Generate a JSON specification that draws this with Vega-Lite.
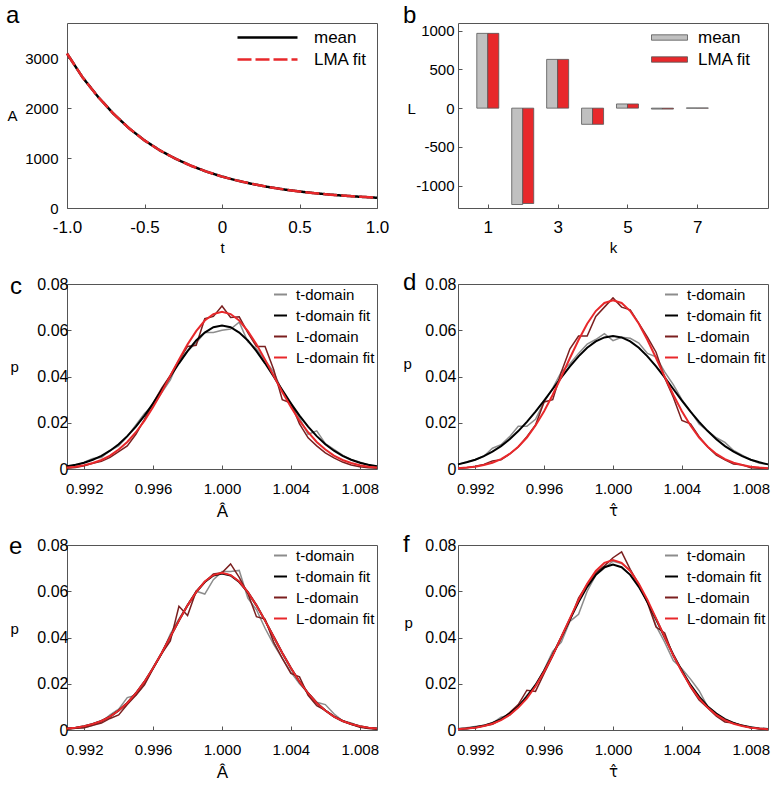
{
  "$schema": "https://vega.github.io/schema/vega-lite/v6.json",
  "padding": {"left": 5, "top": 3, "right": 5, "bottom": 5},
  "background": "white",
  "config": {
    "font": "Liberation Sans",
    "view": {"stroke": "#555555", "strokeWidth": 1},
    "axis": {"domain": false, "grid": false, "ticks": true, "tickSize": -4, "tickColor": "#555555", "labelColor": "#000000", "titleColor": "#000000", "titleFontWeight": "normal", "labelFlush": false, "labelOverlap": false, "labelFontSize": 15, "titleFontSize": 15},
    "legend": {"padding": 0, "labelColor": "#000000", "labelFont": "Liberation Sans"},
    "title": {"anchor": "start", "frame": "group", "fontSize": 24, "fontWeight": "normal", "baseline": "alphabetic", "offset": 0, "color": "#000000"}
  },
  "columns": 2,
  "spacing": {"row": 76, "column": 81},
  "bounds": "flush",
  "resolve": {"scale": {"color": "independent", "strokeDash": "independent", "x": "independent", "y": "independent"}, "legend": {"color": "independent", "strokeDash": "independent"}},
  "datasets": {
    "a": [
      {"t": -1, "mean": 3090, "fit": 3090}, {"t": -0.9, "mean": 2615, "fit": 2615}, {"t": -0.8, "mean": 2225, "fit": 2225},
      {"t": -0.7, "mean": 1885, "fit": 1885}, {"t": -0.6, "mean": 1595, "fit": 1595}, {"t": -0.5, "mean": 1352, "fit": 1352},
      {"t": -0.4, "mean": 1151, "fit": 1151}, {"t": -0.3, "mean": 985, "fit": 985}, {"t": -0.2, "mean": 845, "fit": 845},
      {"t": -0.1, "mean": 728, "fit": 728}, {"t": 0, "mean": 628, "fit": 628}, {"t": 0.1, "mean": 547, "fit": 547},
      {"t": 0.2, "mean": 478, "fit": 478}, {"t": 0.3, "mean": 420, "fit": 420}, {"t": 0.4, "mean": 371, "fit": 371},
      {"t": 0.5, "mean": 330, "fit": 330}, {"t": 0.6, "mean": 296, "fit": 296}, {"t": 0.7, "mean": 267, "fit": 267},
      {"t": 0.8, "mean": 243, "fit": 243}, {"t": 0.9, "mean": 223, "fit": 223}, {"t": 1, "mean": 205, "fit": 205}
    ],
    "b": [
      {"k": 1, "mean": 966, "fit": 966}, {"k": 2, "mean": -1245, "fit": -1232}, {"k": 3, "mean": 630, "fit": 630},
      {"k": 4, "mean": -209, "fit": -209}, {"k": 5, "mean": 54, "fit": 54}, {"k": 6, "mean": -12, "fit": -12}, {"k": 7, "mean": 2, "fit": 2}
    ],
    "c": [
      {"x": 0.991, "td": 0.0008, "tf": 0.0012, "ld": 0.0003, "lf": 0.0006},
      {"x": 0.9915, "td": 0.0012, "tf": 0.0018, "ld": 0.0006, "lf": 0.0010},
      {"x": 0.992, "td": 0.0030, "tf": 0.0027, "ld": 0.0014, "lf": 0.0016},
      {"x": 0.9925, "td": 0.0045, "tf": 0.0040, "ld": 0.0025, "lf": 0.0026},
      {"x": 0.993, "td": 0.0050, "tf": 0.0057, "ld": 0.0033, "lf": 0.0039},
      {"x": 0.9935, "td": 0.0080, "tf": 0.0079, "ld": 0.0050, "lf": 0.0058},
      {"x": 0.994, "td": 0.0100, "tf": 0.0107, "ld": 0.0075, "lf": 0.0084},
      {"x": 0.9945, "td": 0.0140, "tf": 0.0142, "ld": 0.0100, "lf": 0.0117},
      {"x": 0.995, "td": 0.0190, "tf": 0.0183, "ld": 0.0150, "lf": 0.0159},
      {"x": 0.9955, "td": 0.0240, "tf": 0.0231, "ld": 0.0215, "lf": 0.0209},
      {"x": 0.996, "td": 0.0275, "tf": 0.0284, "ld": 0.0285, "lf": 0.0268},
      {"x": 0.9965, "td": 0.0330, "tf": 0.0341, "ld": 0.0350, "lf": 0.0333},
      {"x": 0.997, "td": 0.0385, "tf": 0.0400, "ld": 0.0405, "lf": 0.0403},
      {"x": 0.9975, "td": 0.0470, "tf": 0.0457, "ld": 0.0470, "lf": 0.0473},
      {"x": 0.998, "td": 0.0510, "tf": 0.0510, "ld": 0.0530, "lf": 0.0539},
      {"x": 0.9985, "td": 0.0545, "tf": 0.0556, "ld": 0.0535, "lf": 0.0596},
      {"x": 0.999, "td": 0.0590, "tf": 0.0590, "ld": 0.0650, "lf": 0.0642},
      {"x": 0.9995, "td": 0.0590, "tf": 0.0613, "ld": 0.0660, "lf": 0.0670},
      {"x": 1.0, "td": 0.0600, "tf": 0.0620, "ld": 0.0705, "lf": 0.0680},
      {"x": 1.0005, "td": 0.0605, "tf": 0.0613, "ld": 0.0655, "lf": 0.0670},
      {"x": 1.001, "td": 0.0635, "tf": 0.0590, "ld": 0.0658, "lf": 0.0642},
      {"x": 1.0015, "td": 0.0550, "tf": 0.0556, "ld": 0.0590, "lf": 0.0596},
      {"x": 1.002, "td": 0.0520, "tf": 0.0510, "ld": 0.0530, "lf": 0.0539},
      {"x": 1.0025, "td": 0.0470, "tf": 0.0457, "ld": 0.0530, "lf": 0.0473},
      {"x": 1.003, "td": 0.0420, "tf": 0.0400, "ld": 0.0430, "lf": 0.0403},
      {"x": 1.0035, "td": 0.0335, "tf": 0.0341, "ld": 0.0300, "lf": 0.0333},
      {"x": 1.004, "td": 0.0280, "tf": 0.0284, "ld": 0.0285, "lf": 0.0268},
      {"x": 1.0045, "td": 0.0220, "tf": 0.0231, "ld": 0.0195, "lf": 0.0209},
      {"x": 1.005, "td": 0.0150, "tf": 0.0183, "ld": 0.0135, "lf": 0.0159},
      {"x": 1.0055, "td": 0.0165, "tf": 0.0142, "ld": 0.0100, "lf": 0.0117},
      {"x": 1.006, "td": 0.0110, "tf": 0.0107, "ld": 0.0070, "lf": 0.0084},
      {"x": 1.0065, "td": 0.0085, "tf": 0.0079, "ld": 0.0048, "lf": 0.0058},
      {"x": 1.007, "td": 0.0060, "tf": 0.0057, "ld": 0.0030, "lf": 0.0039},
      {"x": 1.0075, "td": 0.0040, "tf": 0.0040, "ld": 0.0017, "lf": 0.0026},
      {"x": 1.008, "td": 0.0030, "tf": 0.0027, "ld": 0.0010, "lf": 0.0016},
      {"x": 1.0085, "td": 0.0015, "tf": 0.0018, "ld": 0.0005, "lf": 0.0010},
      {"x": 1.009, "td": 0.0008, "tf": 0.0012, "ld": 0.0003, "lf": 0.0006}
    ],
    "d": [
      {"x": 0.991, "td": 0.0020, "tf": 0.0020, "ld": 0.0003, "lf": 0.0003},
      {"x": 0.9915, "td": 0.0030, "tf": 0.0029, "ld": 0.0005, "lf": 0.0006},
      {"x": 0.992, "td": 0.0040, "tf": 0.0040, "ld": 0.0012, "lf": 0.0010},
      {"x": 0.9925, "td": 0.0055, "tf": 0.0056, "ld": 0.0020, "lf": 0.0017},
      {"x": 0.993, "td": 0.0090, "tf": 0.0075, "ld": 0.0035, "lf": 0.0027},
      {"x": 0.9935, "td": 0.0105, "tf": 0.0099, "ld": 0.0040, "lf": 0.0043},
      {"x": 0.994, "td": 0.0140, "tf": 0.0129, "ld": 0.0065, "lf": 0.0065},
      {"x": 0.9945, "td": 0.0185, "tf": 0.0164, "ld": 0.0095, "lf": 0.0096},
      {"x": 0.995, "td": 0.0185, "tf": 0.0204, "ld": 0.0140, "lf": 0.0136},
      {"x": 0.9955, "td": 0.0215, "tf": 0.0248, "ld": 0.0190, "lf": 0.0188},
      {"x": 0.996, "td": 0.0290, "tf": 0.0296, "ld": 0.0290, "lf": 0.0250},
      {"x": 0.9965, "td": 0.0350, "tf": 0.0346, "ld": 0.0300, "lf": 0.0321},
      {"x": 0.997, "td": 0.0420, "tf": 0.0396, "ld": 0.0420, "lf": 0.0399},
      {"x": 0.9975, "td": 0.0455, "tf": 0.0444, "ld": 0.0520, "lf": 0.0480},
      {"x": 0.998, "td": 0.0500, "tf": 0.0487, "ld": 0.0575, "lf": 0.0558},
      {"x": 0.9985, "td": 0.0540, "tf": 0.0524, "ld": 0.0575, "lf": 0.0628},
      {"x": 0.999, "td": 0.0560, "tf": 0.0552, "ld": 0.0660, "lf": 0.0683},
      {"x": 0.9995, "td": 0.0585, "tf": 0.0569, "ld": 0.0700, "lf": 0.0718},
      {"x": 1.0, "td": 0.0555, "tf": 0.0575, "ld": 0.0740, "lf": 0.0730},
      {"x": 1.0005, "td": 0.0570, "tf": 0.0569, "ld": 0.0700, "lf": 0.0718},
      {"x": 1.001, "td": 0.0565, "tf": 0.0552, "ld": 0.0688, "lf": 0.0683},
      {"x": 1.0015, "td": 0.0545, "tf": 0.0524, "ld": 0.0630, "lf": 0.0628},
      {"x": 1.002, "td": 0.0500, "tf": 0.0487, "ld": 0.0570, "lf": 0.0558},
      {"x": 1.0025, "td": 0.0485, "tf": 0.0444, "ld": 0.0505, "lf": 0.0480},
      {"x": 1.003, "td": 0.0420, "tf": 0.0396, "ld": 0.0395, "lf": 0.0399},
      {"x": 1.0035, "td": 0.0365, "tf": 0.0346, "ld": 0.0310, "lf": 0.0321},
      {"x": 1.004, "td": 0.0300, "tf": 0.0296, "ld": 0.0210, "lf": 0.0250},
      {"x": 1.0045, "td": 0.0250, "tf": 0.0248, "ld": 0.0195, "lf": 0.0188},
      {"x": 1.005, "td": 0.0195, "tf": 0.0204, "ld": 0.0140, "lf": 0.0136},
      {"x": 1.0055, "td": 0.0165, "tf": 0.0164, "ld": 0.0095, "lf": 0.0096},
      {"x": 1.006, "td": 0.0135, "tf": 0.0129, "ld": 0.0060, "lf": 0.0065},
      {"x": 1.0065, "td": 0.0115, "tf": 0.0099, "ld": 0.0040, "lf": 0.0043},
      {"x": 1.007, "td": 0.0080, "tf": 0.0075, "ld": 0.0022, "lf": 0.0027},
      {"x": 1.0075, "td": 0.0060, "tf": 0.0056, "ld": 0.0018, "lf": 0.0017},
      {"x": 1.008, "td": 0.0040, "tf": 0.0040, "ld": 0.0005, "lf": 0.0010},
      {"x": 1.0085, "td": 0.0025, "tf": 0.0029, "ld": 0.0003, "lf": 0.0006},
      {"x": 1.009, "td": 0.0020, "tf": 0.0020, "ld": 0.0003, "lf": 0.0003}
    ],
    "e": [
      {"x": 0.991, "td": 0.0005, "tf": 0.0006, "ld": 0.0003, "lf": 0.0006},
      {"x": 0.9915, "td": 0.0008, "tf": 0.0010, "ld": 0.0008, "lf": 0.0010},
      {"x": 0.992, "td": 0.0010, "tf": 0.0016, "ld": 0.0010, "lf": 0.0016},
      {"x": 0.9925, "td": 0.0020, "tf": 0.0026, "ld": 0.0020, "lf": 0.0026},
      {"x": 0.993, "td": 0.0035, "tf": 0.0039, "ld": 0.0030, "lf": 0.0039},
      {"x": 0.9935, "td": 0.0065, "tf": 0.0058, "ld": 0.0050, "lf": 0.0058},
      {"x": 0.994, "td": 0.0090, "tf": 0.0084, "ld": 0.0065, "lf": 0.0084},
      {"x": 0.9945, "td": 0.0140, "tf": 0.0117, "ld": 0.0110, "lf": 0.0117},
      {"x": 0.995, "td": 0.0150, "tf": 0.0159, "ld": 0.0150, "lf": 0.0159},
      {"x": 0.9955, "td": 0.0200, "tf": 0.0209, "ld": 0.0195, "lf": 0.0209},
      {"x": 0.996, "td": 0.0270, "tf": 0.0268, "ld": 0.0265, "lf": 0.0268},
      {"x": 0.9965, "td": 0.0330, "tf": 0.0333, "ld": 0.0330, "lf": 0.0333},
      {"x": 0.997, "td": 0.0415, "tf": 0.0403, "ld": 0.0385, "lf": 0.0403},
      {"x": 0.9975, "td": 0.0480, "tf": 0.0473, "ld": 0.0535, "lf": 0.0473},
      {"x": 0.998, "td": 0.0540, "tf": 0.0539, "ld": 0.0495, "lf": 0.0539},
      {"x": 0.9985, "td": 0.0600, "tf": 0.0596, "ld": 0.0600, "lf": 0.0596},
      {"x": 0.999, "td": 0.0588, "tf": 0.0640, "ld": 0.0640, "lf": 0.0642},
      {"x": 0.9995, "td": 0.0650, "tf": 0.0668, "ld": 0.0675, "lf": 0.0670},
      {"x": 1.0, "td": 0.0685, "tf": 0.0677, "ld": 0.0680, "lf": 0.0680},
      {"x": 1.0005, "td": 0.0685, "tf": 0.0668, "ld": 0.0718, "lf": 0.0670},
      {"x": 1.001, "td": 0.0690, "tf": 0.0640, "ld": 0.0660, "lf": 0.0642},
      {"x": 1.0015, "td": 0.0570, "tf": 0.0596, "ld": 0.0590, "lf": 0.0596},
      {"x": 1.002, "td": 0.0520, "tf": 0.0539, "ld": 0.0490, "lf": 0.0539},
      {"x": 1.0025, "td": 0.0440, "tf": 0.0473, "ld": 0.0480, "lf": 0.0473},
      {"x": 1.003, "td": 0.0370, "tf": 0.0403, "ld": 0.0380, "lf": 0.0403},
      {"x": 1.0035, "td": 0.0310, "tf": 0.0333, "ld": 0.0310, "lf": 0.0333},
      {"x": 1.004, "td": 0.0250, "tf": 0.0268, "ld": 0.0245, "lf": 0.0268},
      {"x": 1.0045, "td": 0.0200, "tf": 0.0209, "ld": 0.0230, "lf": 0.0209},
      {"x": 1.005, "td": 0.0160, "tf": 0.0159, "ld": 0.0150, "lf": 0.0159},
      {"x": 1.0055, "td": 0.0120, "tf": 0.0117, "ld": 0.0105, "lf": 0.0117},
      {"x": 1.006, "td": 0.0110, "tf": 0.0084, "ld": 0.0085, "lf": 0.0084},
      {"x": 1.0065, "td": 0.0070, "tf": 0.0058, "ld": 0.0060, "lf": 0.0058},
      {"x": 1.007, "td": 0.0040, "tf": 0.0039, "ld": 0.0040, "lf": 0.0039},
      {"x": 1.0075, "td": 0.0030, "tf": 0.0026, "ld": 0.0025, "lf": 0.0026},
      {"x": 1.008, "td": 0.0015, "tf": 0.0016, "ld": 0.0012, "lf": 0.0016},
      {"x": 1.0085, "td": 0.0008, "tf": 0.0010, "ld": 0.0006, "lf": 0.0010},
      {"x": 1.009, "td": 0.0005, "tf": 0.0006, "ld": 0.0003, "lf": 0.0006}
    ],
    "f": [
      {"x": 0.991, "td": 0.0005, "tf": 0.0004, "ld": 0.0002, "lf": 0.0003},
      {"x": 0.9915, "td": 0.0010, "tf": 0.0007, "ld": 0.0007, "lf": 0.0006},
      {"x": 0.992, "td": 0.0015, "tf": 0.0012, "ld": 0.0010, "lf": 0.0010},
      {"x": 0.9925, "td": 0.0020, "tf": 0.0019, "ld": 0.0017, "lf": 0.0017},
      {"x": 0.993, "td": 0.0030, "tf": 0.0031, "ld": 0.0025, "lf": 0.0027},
      {"x": 0.9935, "td": 0.0055, "tf": 0.0047, "ld": 0.0045, "lf": 0.0043},
      {"x": 0.994, "td": 0.0065, "tf": 0.0071, "ld": 0.0075, "lf": 0.0065},
      {"x": 0.9945, "td": 0.0100, "tf": 0.0102, "ld": 0.0110, "lf": 0.0097},
      {"x": 0.995, "td": 0.0150, "tf": 0.0144, "ld": 0.0172, "lf": 0.0137},
      {"x": 0.9955, "td": 0.0190, "tf": 0.0195, "ld": 0.0167, "lf": 0.0189},
      {"x": 0.996, "td": 0.0260, "tf": 0.0256, "ld": 0.0245, "lf": 0.0252},
      {"x": 0.9965, "td": 0.0340, "tf": 0.0326, "ld": 0.0320, "lf": 0.0323},
      {"x": 0.997, "td": 0.0380, "tf": 0.0401, "ld": 0.0400, "lf": 0.0402},
      {"x": 0.9975, "td": 0.0470, "tf": 0.0479, "ld": 0.0475, "lf": 0.0483},
      {"x": 0.998, "td": 0.0500, "tf": 0.0553, "ld": 0.0570, "lf": 0.0562},
      {"x": 0.9985, "td": 0.0600, "tf": 0.0619, "ld": 0.0630, "lf": 0.0632},
      {"x": 0.999, "td": 0.0670, "tf": 0.0671, "ld": 0.0680, "lf": 0.0688},
      {"x": 0.9995, "td": 0.0700, "tf": 0.0704, "ld": 0.0710, "lf": 0.0723},
      {"x": 1.0, "td": 0.0730, "tf": 0.0715, "ld": 0.0745, "lf": 0.0735},
      {"x": 1.0005, "td": 0.0720, "tf": 0.0704, "ld": 0.0770, "lf": 0.0723},
      {"x": 1.001, "td": 0.0690, "tf": 0.0671, "ld": 0.0695, "lf": 0.0688},
      {"x": 1.0015, "td": 0.0620, "tf": 0.0619, "ld": 0.0630, "lf": 0.0632},
      {"x": 1.002, "td": 0.0560, "tf": 0.0553, "ld": 0.0550, "lf": 0.0562},
      {"x": 1.0025, "td": 0.0450, "tf": 0.0479, "ld": 0.0445, "lf": 0.0483},
      {"x": 1.003, "td": 0.0380, "tf": 0.0401, "ld": 0.0420, "lf": 0.0402},
      {"x": 1.0035, "td": 0.0300, "tf": 0.0326, "ld": 0.0320, "lf": 0.0323},
      {"x": 1.004, "td": 0.0265, "tf": 0.0256, "ld": 0.0255, "lf": 0.0252},
      {"x": 1.0045, "td": 0.0220, "tf": 0.0195, "ld": 0.0185, "lf": 0.0189},
      {"x": 1.005, "td": 0.0170, "tf": 0.0144, "ld": 0.0130, "lf": 0.0137},
      {"x": 1.0055, "td": 0.0100, "tf": 0.0102, "ld": 0.0095, "lf": 0.0097},
      {"x": 1.006, "td": 0.0070, "tf": 0.0071, "ld": 0.0060, "lf": 0.0065},
      {"x": 1.0065, "td": 0.0040, "tf": 0.0047, "ld": 0.0035, "lf": 0.0043},
      {"x": 1.007, "td": 0.0030, "tf": 0.0031, "ld": 0.0030, "lf": 0.0027},
      {"x": 1.0075, "td": 0.0018, "tf": 0.0019, "ld": 0.0020, "lf": 0.0017},
      {"x": 1.008, "td": 0.0010, "tf": 0.0012, "ld": 0.0010, "lf": 0.0010},
      {"x": 1.0085, "td": 0.0006, "tf": 0.0007, "ld": 0.0005, "lf": 0.0006},
      {"x": 1.009, "td": 0.0005, "tf": 0.0004, "ld": 0.0002, "lf": 0.0003}
    ]
  },
  "concat": [
    {
      "width": 310, "height": 185,
      "title": {"text": "a", "dx": -61, "dy": 9},
      "data": {"name": "a"},
      "transform": [{"fold": ["mean", "fit"], "as": ["series", "A"]}],
      "mark": {"type": "line", "strokeWidth": 2.5},
      "encoding": {
        "x": {"field": "t", "type": "quantitative", "scale": {"domain": [-1, 1], "nice": false},
          "axis": {"values": [-1, -0.5, 0, 0.5, 1], "labelExpr": "datum.value == 0 ? '0' : (datum.value < 0 ? '-' : '') + format(abs(datum.value), '.1f')", "title": "t", "labelFontSize": 17, "labelPadding": 15, "titlePadding": 5}},
        "y": {"field": "A", "type": "quantitative", "scale": {"domain": [0, 3700], "nice": false},
          "axis": {"values": [0, 1000, 2000, 3000], "format": "d", "title": "A", "titleAngle": 0, "titleAlign": "left", "titleBaseline": "middle", "titleX": -60, "titleY": 92, "labelPadding": 13}},
        "color": {"field": "series", "type": "nominal", "scale": {"domain": ["mean", "fit"], "range": ["#000000", "#e8282b"]},
          "legend": {"orient": "none", "legendX": 192, "legendY": 6, "title": null, "symbolType": "M-10,0H10", "symbolSize": 36, "symbolStrokeWidth": 2.5, "labelFontSize": 17, "labelOffset": 38, "rowPadding": 4, "labelExpr": "datum.label == 'fit' ? 'LMA fit' : 'mean'"}},
        "strokeDash": {"field": "series", "type": "nominal", "scale": {"domain": ["mean", "fit"], "range": [[1, 0], [14, 4]]},
          "legend": {"orient": "none", "legendX": 192, "legendY": 6, "title": null, "symbolType": "M-10,0H10", "symbolSize": 36, "symbolStrokeWidth": 2.5, "labelFontSize": 17, "labelOffset": 38, "rowPadding": 4, "labelExpr": "datum.label == 'fit' ? 'LMA fit' : 'mean'"}}
      }
    },
    {
      "width": 310, "height": 185,
      "title": {"text": "b", "dx": -55, "dy": 9},
      "data": {"name": "b"},
      "encoding": {
        "x": {"field": "k", "type": "quantitative", "scale": {"domain": [0.29, 8.88], "nice": false, "zero": false},
          "axis": {"values": [1, 3, 5, 7], "format": "d", "title": "k", "labelFontSize": 17, "labelPadding": 15, "titlePadding": 5}}
      },
      "layer": [
        {
          "mark": {"type": "bar", "width": 11, "xOffset": -5.5, "stroke": "#555555", "strokeWidth": 0.8},
          "encoding": {
            "y": {"field": "mean", "type": "quantitative", "scale": {"domain": [-1290, 1100], "nice": false},
              "axis": {"values": [-1000, -500, 0, 500, 1000], "labelExpr": "(datum.value < 0 ? '-' : '') + format(abs(datum.value), 'd')", "title": "L", "titleAngle": 0, "titleAlign": "left", "titleBaseline": "middle", "titleX": -51, "titleY": 85, "labelPadding": 8}},
            "color": {"datum": "mean", "type": "nominal", "scale": {"domain": ["mean", "LMA fit"], "range": ["#c0c0c0", "#e8282b"]},
              "legend": {"orient": "none", "legendX": 203, "legendY": 6, "title": null, "symbolType": "M-6,-0.9H6V0.9H-6Z", "symbolSize": 36, "symbolStrokeColor": "#555555", "symbolStrokeWidth": 0.8, "labelFontSize": 17, "labelOffset": 20, "rowPadding": 4}}
          }
        },
        {
          "mark": {"type": "bar", "width": 11, "xOffset": 5.5, "stroke": "#555555", "strokeWidth": 0.8},
          "encoding": {
            "y": {"field": "fit", "type": "quantitative", "axis": {"title": "L"}},
            "color": {"datum": "LMA fit", "type": "nominal"}
          }
        }
      ]
    },
    {
      "width": 310, "height": 185,
      "title": {"text": "c", "dx": -57, "dy": 27},
      "data": {"name": "c"},
      "encoding": {
        "x": {"field": "x", "type": "quantitative", "scale": {"domain": [0.991, 1.009], "nice": false, "zero": false},
          "axis": {"values": [0.992, 0.996, 1.0, 1.004, 1.008], "format": ".3f", "title": "Â", "titleFontSize": 17, "labelPadding": 16, "titlePadding": 7}},
        "y": {"field": "p", "type": "quantitative", "scale": {"domain": [0, 0.08], "nice": false},
          "axis": {"values": [0, 0.02, 0.04, 0.06, 0.08], "labelExpr": "datum.value == 0 ? '0' : format(datum.value, '.2f')", "title": "p", "titleAngle": 0, "titleAlign": "left", "titleBaseline": "alphabetic", "titleX": -57, "titleY": 87, "labelFontSize": 16, "labelPadding": 3}},
        "color": {"field": "s", "type": "nominal", "scale": {"domain": ["td", "tf", "ld", "lf"], "range": ["#8c8c8c", "#000000", "#7a1f1f", "#e8282b"]},
          "legend": {"orient": "none", "legendX": 206, "legendY": 3, "title": null, "symbolType": "stroke", "symbolSize": 169, "symbolStrokeWidth": 2, "labelFontSize": 15, "labelOffset": 8, "rowPadding": 5, "labelExpr": "datum.label == 'td' ? 't-domain' : datum.label == 'tf' ? 't-domain fit' : datum.label == 'ld' ? 'L-domain' : 'L-domain fit'"}}
      },
      "layer": [
        {"transform": [{"fold": ["td", "ld"], "as": ["s", "p"]}], "mark": {"type": "line", "strokeWidth": 1.5}},
        {"transform": [{"fold": ["tf", "lf"], "as": ["s", "p"]}], "mark": {"type": "line", "strokeWidth": 2}}
      ]
    },
    {
      "width": 310, "height": 185,
      "title": {"text": "d", "dx": -55, "dy": 23},
      "data": {"name": "d"},
      "encoding": {
        "x": {"field": "x", "type": "quantitative", "scale": {"domain": [0.991, 1.009], "nice": false, "zero": false},
          "axis": {"values": [0.992, 0.996, 1.0, 1.004, 1.008], "format": ".3f", "title": "τ̂", "titleFont": "DejaVu Sans", "titleFontSize": 15, "labelPadding": 16, "titlePadding": 7}},
        "y": {"field": "p", "type": "quantitative", "scale": {"domain": [0, 0.08], "nice": false},
          "axis": {"values": [0, 0.02, 0.04, 0.06, 0.08], "labelExpr": "datum.value == 0 ? '0' : format(datum.value, '.2f')", "title": "p", "titleAngle": 0, "titleAlign": "left", "titleBaseline": "alphabetic", "titleX": -55, "titleY": 84, "labelFontSize": 16, "labelPadding": 6}},
        "color": {"field": "s", "type": "nominal", "scale": {"domain": ["td", "tf", "ld", "lf"], "range": ["#8c8c8c", "#000000", "#7a1f1f", "#e8282b"]},
          "legend": {"orient": "none", "legendX": 206, "legendY": 3, "title": null, "symbolType": "stroke", "symbolSize": 169, "symbolStrokeWidth": 2, "labelFontSize": 15, "labelOffset": 8, "rowPadding": 5, "labelExpr": "datum.label == 'td' ? 't-domain' : datum.label == 'tf' ? 't-domain fit' : datum.label == 'ld' ? 'L-domain' : 'L-domain fit'"}}
      },
      "layer": [
        {"transform": [{"fold": ["td", "ld"], "as": ["s", "p"]}], "mark": {"type": "line", "strokeWidth": 1.5}},
        {"transform": [{"fold": ["tf", "lf"], "as": ["s", "p"]}], "mark": {"type": "line", "strokeWidth": 2}}
      ]
    },
    {
      "width": 310, "height": 185,
      "title": {"text": "e", "dx": -58, "dy": 26},
      "data": {"name": "e"},
      "encoding": {
        "x": {"field": "x", "type": "quantitative", "scale": {"domain": [0.991, 1.009], "nice": false, "zero": false},
          "axis": {"values": [0.992, 0.996, 1.0, 1.004, 1.008], "format": ".3f", "title": "Â", "titleFontSize": 17, "labelPadding": 16, "titlePadding": 7}},
        "y": {"field": "p", "type": "quantitative", "scale": {"domain": [0, 0.08], "nice": false},
          "axis": {"values": [0, 0.02, 0.04, 0.06, 0.08], "labelExpr": "datum.value == 0 ? '0' : format(datum.value, '.2f')", "title": "p", "titleAngle": 0, "titleAlign": "left", "titleBaseline": "alphabetic", "titleX": -57, "titleY": 88, "labelFontSize": 16, "labelPadding": 3}},
        "color": {"field": "s", "type": "nominal", "scale": {"domain": ["td", "tf", "ld", "lf"], "range": ["#8c8c8c", "#000000", "#7a1f1f", "#e8282b"]},
          "legend": {"orient": "none", "legendX": 206, "legendY": 3, "title": null, "symbolType": "stroke", "symbolSize": 169, "symbolStrokeWidth": 2, "labelFontSize": 15, "labelOffset": 8, "rowPadding": 5, "labelExpr": "datum.label == 'td' ? 't-domain' : datum.label == 'tf' ? 't-domain fit' : datum.label == 'ld' ? 'L-domain' : 'L-domain fit'"}}
      },
      "layer": [
        {"transform": [{"fold": ["td", "ld"], "as": ["s", "p"]}], "mark": {"type": "line", "strokeWidth": 1.5}},
        {"transform": [{"fold": ["tf", "lf"], "as": ["s", "p"]}], "mark": {"type": "line", "strokeWidth": 2}}
      ]
    },
    {
      "width": 310, "height": 185,
      "title": {"text": "f", "dx": -55, "dy": 24},
      "data": {"name": "f"},
      "encoding": {
        "x": {"field": "x", "type": "quantitative", "scale": {"domain": [0.991, 1.009], "nice": false, "zero": false},
          "axis": {"values": [0.992, 0.996, 1.0, 1.004, 1.008], "format": ".3f", "title": "τ̂", "titleFont": "DejaVu Sans", "titleFontSize": 15, "labelPadding": 16, "titlePadding": 7}},
        "y": {"field": "p", "type": "quantitative", "scale": {"domain": [0, 0.08], "nice": false},
          "axis": {"values": [0, 0.02, 0.04, 0.06, 0.08], "labelExpr": "datum.value == 0 ? '0' : format(datum.value, '.2f')", "title": "p", "titleAngle": 0, "titleAlign": "left", "titleBaseline": "alphabetic", "titleX": -54, "titleY": 82, "labelFontSize": 16, "labelPadding": 6}},
        "color": {"field": "s", "type": "nominal", "scale": {"domain": ["td", "tf", "ld", "lf"], "range": ["#8c8c8c", "#000000", "#7a1f1f", "#e8282b"]},
          "legend": {"orient": "none", "legendX": 206, "legendY": 3, "title": null, "symbolType": "stroke", "symbolSize": 169, "symbolStrokeWidth": 2, "labelFontSize": 15, "labelOffset": 8, "rowPadding": 5, "labelExpr": "datum.label == 'td' ? 't-domain' : datum.label == 'tf' ? 't-domain fit' : datum.label == 'ld' ? 'L-domain' : 'L-domain fit'"}}
      },
      "layer": [
        {"transform": [{"fold": ["td", "ld"], "as": ["s", "p"]}], "mark": {"type": "line", "strokeWidth": 1.5}},
        {"transform": [{"fold": ["tf", "lf"], "as": ["s", "p"]}], "mark": {"type": "line", "strokeWidth": 2}}
      ]
    }
  ]
}
